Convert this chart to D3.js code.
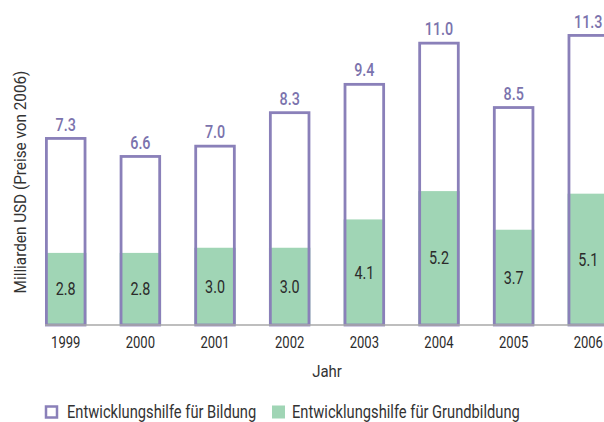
<!DOCTYPE html>
<html>
<head>
<meta charset="utf-8">
<script src="https://cdn.jsdelivr.net/npm/d3@7"></script>
<style>
  body { margin: 0; background: #fff; }
  svg text { font-family: Roboto, "Noto Sans", sans-serif; }
</style>
</head>
<body>
<div id="chart"></div>
<script>
var years = ["1999", "2000", "2001", "2002", "2003", "2004", "2005", "2006"];
var totalAid = [7.3, 6.6, 7.0, 8.3, 9.4, 11.0, 8.5, 11.3];
var basicAid = [2.8, 2.8, 3.0, 3.0, 4.1, 5.2, 3.7, 5.1];
var seriesNames = ["Entwicklungshilfe für Bildung", "Entwicklungshilfe für Grundbildung"];

var width = 604, height = 422;
var purple = "#8a80b9", green = "#a0d5b5", ink = "#2b2b2b";

var data = years.map(function (y, i) {
    return {year: y, total: totalAid[i], basic: basicAid[i]};
});

// the original uses a condensed face, so squeeze Roboto horizontally
function squeeze(x, y, s, rot) {
    return "translate(" + x + "," + y + ")" + (rot ? " rotate(" + rot + ")" : "") + " scale(" + s + ",1)";
}

var svg = d3.select("#chart").append("svg")
        .attr("width", width)
        .attr("height", height);

var x = d3.scaleBand()
        .domain(years)
        .range([45, 609])
        .paddingInner(0.445)
        .paddingOuter(0);

var y = d3.scaleLinear()
        .domain([0, 12])
        .range([325, 16]);

var bars = svg.append("g").attr("class", "bars")
        .selectAll("g").data(data).enter().append("g");

// green part (basic education)
bars.append("rect")
        .attr("x", function (d) { return x(d.year); })
        .attr("y", function (d) { return y(d.basic); })
        .attr("width", x.bandwidth())
        .attr("height", function (d) { return y(0) - y(d.basic); })
        .attr("fill", green);

// outline (total)
bars.append("rect")
        .attr("x", function (d) { return x(d.year) + 1.4; })
        .attr("y", function (d) { return y(d.total) + 1.4; })
        .attr("width", x.bandwidth() - 2.8)
        .attr("height", function (d) { return y(0) - y(d.total) - 1.4; })
        .attr("fill", "none")
        .attr("stroke", purple)
        .attr("stroke-width", 2.8);

bars.append("text")
        .attr("transform", function (d) {
            return squeeze(x(d.year) + x.bandwidth() / 2, y(d.total) - 6.5, 0.82);
        })
        .attr("text-anchor", "middle")
        .attr("fill", "#7b73ad")
        .style("font-size", "17.5px")
        .style("font-weight", 500)
        .text(function (d) { return d.total.toFixed(1); });

bars.append("text")
        .attr("transform", function (d) {
            return squeeze(x(d.year) + x.bandwidth() / 2, (y(d.basic) + y(0)) / 2 + 6.3, 0.82);
        })
        .attr("text-anchor", "middle")
        .attr("fill", ink)
        .style("font-size", "17.5px")
        .text(function (d) { return d.basic.toFixed(1); });

var xAxis = d3.axisBottom(x).tickSize(0).tickPadding(0);

var gx = svg.append("g")
        .attr("class", "x axis")
        .attr("transform", "translate(0," + y(0) + ")")
        .call(xAxis);
gx.select(".domain").remove();
gx.append("line")
        .attr("x1", 45).attr("x2", width)
        .attr("stroke", "#a8a8a8")
        .attr("stroke-width", 1.6);
gx.selectAll(".tick text")
        .attr("y", null).attr("dy", null)
        .attr("transform", squeeze(0, 23, 0.79))
        .attr("fill", ink)
        .style("font-size", "16.5px")
        .style("font-family", "Roboto, sans-serif");

svg.append("text")
        .attr("transform", squeeze(327, 377, 0.88))
        .attr("text-anchor", "middle")
        .attr("fill", "#333")
        .style("font-size", "17px")
        .text("Jahr");

svg.append("text")
        .attr("transform", squeeze(26, 182, 0.9, -90))
        .attr("text-anchor", "middle")
        .attr("fill", "#333")
        .style("font-size", "17px")
        .text("Milliarden USD (Preise von 2006)");

// legend
var legend = svg.append("g").attr("class", "legend");
legend.append("rect")
        .attr("x", 46).attr("y", 406.5)
        .attr("width", 11).attr("height", 11)
        .attr("fill", "none")
        .attr("stroke", purple)
        .attr("stroke-width", 2.5);
legend.append("text")
        .attr("transform", squeeze(67, 418, 0.84))
        .attr("fill", "#333")
        .style("font-size", "17.5px")
        .text(seriesNames[0]);
legend.append("rect")
        .attr("x", 272).attr("y", 405.5)
        .attr("width", 13).attr("height", 13)
        .attr("fill", green);
legend.append("text")
        .attr("transform", squeeze(292, 418, 0.84))
        .attr("fill", "#333")
        .style("font-size", "17.5px")
        .text(seriesNames[1]);
</script>
</body>
</html>
